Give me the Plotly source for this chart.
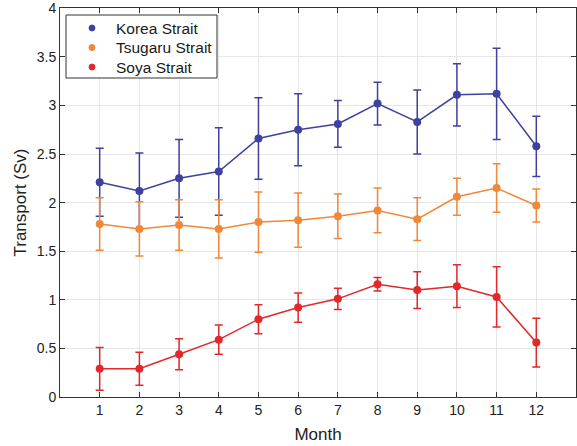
import plotly.graph_objects as go

months = list(range(1, 13))
month_labels = [str(m) for m in months]

korea = [2.21, 2.12, 2.25, 2.32, 2.66, 2.75, 2.81, 3.02, 2.83, 3.11, 3.12, 2.58]
korea_err = [0.35, 0.39, 0.40, 0.45, 0.42, 0.37, 0.24, 0.22, 0.33, 0.32, 0.47, 0.31]

tsugaru = [1.78, 1.73, 1.77, 1.73, 1.80, 1.82, 1.86, 1.92, 1.83, 2.06, 2.15, 1.97]
tsugaru_err = [0.27, 0.28, 0.26, 0.30, 0.31, 0.28, 0.23, 0.23, 0.22, 0.19, 0.25, 0.17]

soya = [0.29, 0.29, 0.44, 0.59, 0.80, 0.92, 1.01, 1.16, 1.10, 1.14, 1.03, 0.56]
soya_err = [0.22, 0.17, 0.16, 0.15, 0.15, 0.15, 0.11, 0.07, 0.19, 0.22, 0.31, 0.25]

y_ticks = [0, 0.5, 1, 1.5, 2, 2.5, 3, 3.5, 4]
y_tick_labels = ["0", "0.5", "1", "1.5", "2", "2.5", "3", "3.5", "4"]

series = [
    ("Korea Strait", korea, korea_err, "#3e429e"),
    ("Tsugaru Strait", tsugaru, tsugaru_err, "#f0883a"),
    ("Soya Strait", soya, soya_err, "#e1282a"),
]

FONT = "Liberation Sans, Arial, sans-serif"

fig = go.Figure()
for name, vals, errs, col in series:
    fig.add_trace(go.Scatter(
        x=months, y=vals, mode="lines+markers", name=name, showlegend=False,
        line=dict(color=col, width=1.5),
        marker=dict(color=col, size=8),
        error_y=dict(type="data", array=errs, visible=True, color=col, thickness=1.5, width=4),
    ))

# Legend box (pixel offsets from plot's top-left corner)
shapes = [dict(
    type="rect", xref="paper", yref="paper",
    xsizemode="pixel", ysizemode="pixel", xanchor=0, yanchor=1,
    x0=6, x1=157, y0=-7, y1=-70,
    line=dict(color="#333333", width=1), fillcolor="white", layer="above",
)]
annotations = []
row_offsets = [20, 39.5, 59]
for (name, _, _, col), dy in zip(series, row_offsets):
    shapes.append(dict(
        type="circle", xref="paper", yref="paper",
        xsizemode="pixel", ysizemode="pixel", xanchor=0, yanchor=1,
        x0=29, x1=35, y0=-dy - 3, y1=-dy + 3,
        line=dict(color=col, width=1), fillcolor=col, layer="above",
    ))
    annotations.append(dict(
        text=name, xref="paper", yref="paper", x=0, y=1,
        xshift=54, yshift=-dy, xanchor="left", yanchor="middle",
        showarrow=False, font=dict(family=FONT, size=15.5, color="#1a1a1a"),
    ))

axis_common = dict(
    showline=True, linecolor="#333333", linewidth=1, mirror="allticks",
    ticks="inside", ticklen=5, tickcolor="#333333",
    showgrid=True, gridcolor="#e6e6e6", gridwidth=1, zeroline=False,
    automargin=False,
    tickfont=dict(family=FONT, size=14, color="#222222"),
)

fig.update_layout(
    width=577, height=446,
    margin=dict(l=60, r=1, t=8, b=49),
    paper_bgcolor="white", plot_bgcolor="white",
    font=dict(family=FONT, color="#222222"),
    showlegend=False,
    xaxis=dict(range=[0, 13], tickvals=months, ticktext=month_labels,
               title=dict(text="Month", font=dict(size=17), standoff=11), **axis_common),
    yaxis=dict(range=[0, 4.003], tickvals=y_ticks, ticktext=y_tick_labels,
               title=dict(text="Transport (Sv)", font=dict(size=17), standoff=5), **axis_common),
    shapes=shapes,
    annotations=annotations,
)

fig.write_html(
    "out.html",
    config={"displayModeBar": False},
    post_script="document.body.style.margin='0';document.body.style.overflow='hidden';",
)
